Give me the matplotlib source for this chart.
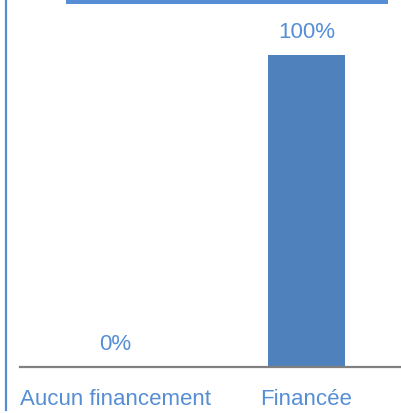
"""Bar chart: share of projects by funding status."""

import matplotlib
matplotlib.use("Agg")
import matplotlib.pyplot as plt
from matplotlib.patches import Rectangle
from matplotlib.lines import Line2D

categories = ["Aucun financement", "Financée"]
values = [0, 100]
value_labels = ["0%", "100%"]

BAR_COLOR = "#4F81BD"
TEXT_COLOR = "#558ED5"
W, H = 402, 414

plt.rcParams["font.family"] = ["Liberation Sans", "DejaVu Sans"]

fig = plt.figure(figsize=(W / 100, H / 100), dpi=100)
# plot area: x 20..402 px, y 0..368 px (from top)
ax = fig.add_axes([20 / W, (H - 368) / H, 382 / W, 368 / H])

x = range(len(categories))
ax.bar(x, values, width=0.4, color=BAR_COLOR)
for xi, v, lab in zip(x, values, value_labels):
    ax.annotate(lab, (xi, v), xytext=(0, 17), textcoords="offset points",
                ha="center", va="center", fontsize=16, color=TEXT_COLOR)

ax.set_xlim(-0.5, 1.5)
ax.set_ylim(0, 100 * 368 / 312)
ax.set_xticks(list(x))
ax.set_xticklabels(categories, fontsize=16, color=TEXT_COLOR)
ax.tick_params(axis="x", length=0, pad=15)
ax.set_yticks([])
for side in ["top", "right", "left"]:
    ax.spines[side].set_visible(False)
ax.spines["bottom"].set_color("#808080")
ax.spines["bottom"].set_linewidth(1.6)

# decorative frame pieces from the original slide
fig.add_artist(Rectangle((66 / W, 1 - 4.5 / H), (388 - 66) / W, 4.5 / H,
                         transform=fig.transFigure, color=TEXT_COLOR, lw=0))
fig.add_artist(Line2D([6.5 / W, 6.5 / W], [1 - 411 / H, 1], transform=fig.transFigure,
                      color=TEXT_COLOR, lw=1.6))

fig.savefig("out.png", dpi=100)
